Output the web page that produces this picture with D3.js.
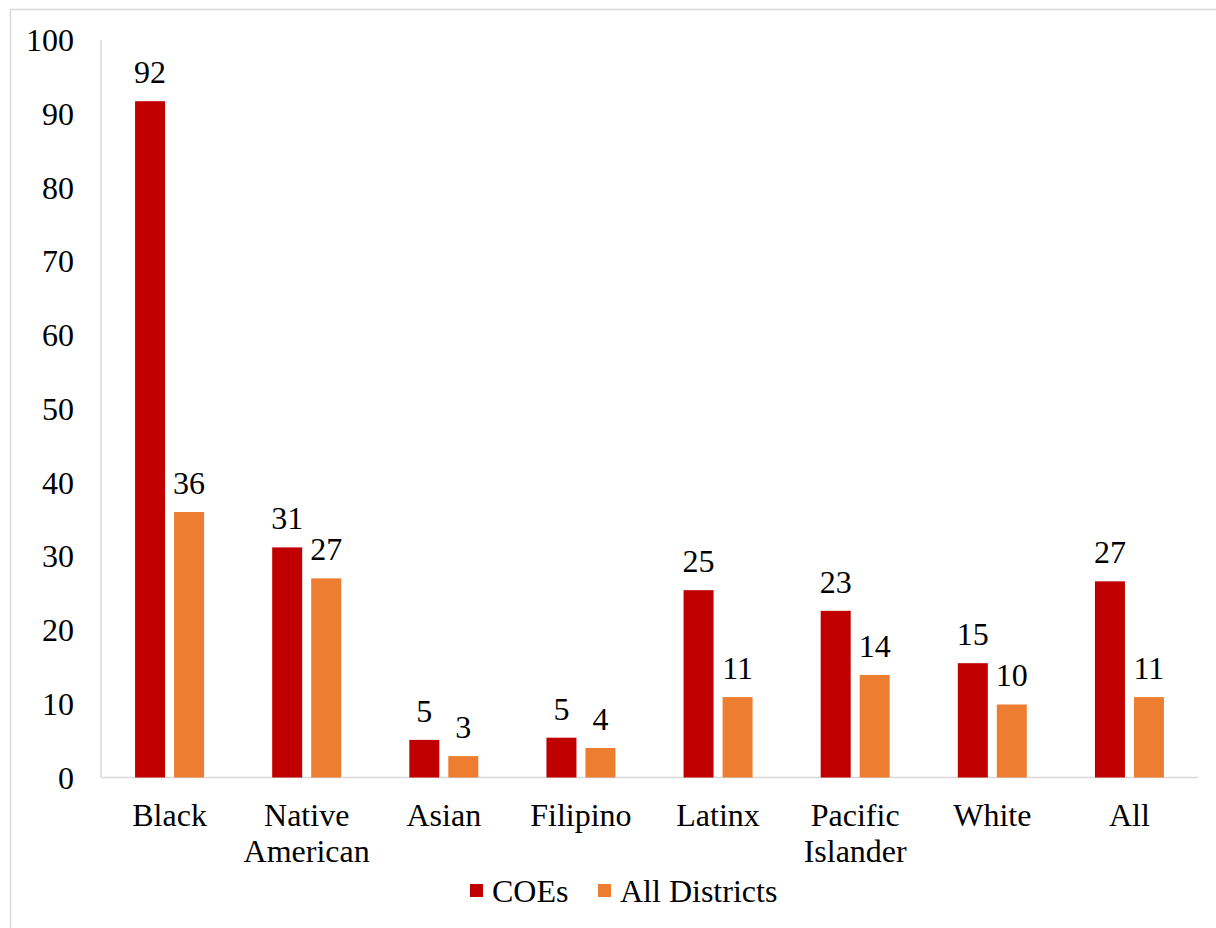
<!DOCTYPE html>
<html>
<head>
<meta charset="utf-8">
<script src="https://cdn.jsdelivr.net/npm/d3@7"></script>
<style>
  body { margin: 0; background: #fff; }
  text { font-family: "Liberation Serif", "Times New Roman", serif; fill: #000; }
</style>
</head>
<body>
<svg id="chart" width="1216" height="928"></svg>
<script>
var categories = ["Black", "Native American", "Asian", "Filipino", "Latinx", "Pacific Islander", "White", "All"];
var coes = [91.7, 31.2, 5.1, 5.4, 25.4, 22.6, 15.5, 26.6];
var allDistricts = [36.0, 27.0, 2.9, 4.0, 10.9, 13.9, 9.9, 10.9];
var coeLabels = ["92", "31", "5", "5", "25", "23", "15", "27"];
var districtLabels = ["36", "27", "3", "4", "11", "14", "10", "11"];
var seriesNames = ["COEs", "All Districts"];
var colors = ["#C00000", "#ED7D31"];
var yTicks = [0, 10, 20, 30, 40, 50, 60, 70, 80, 90, 100];

var svg = d3.select("#chart");
var fontSize = 32;

// outer frame
svg.append("rect")
    .attr("x", 10.5).attr("y", 9.5)
    .attr("width", 1220).attr("height", 940)
    .attr("fill", "none")
    .attr("stroke", "#d9d9d9")
    .attr("stroke-width", 1.5);

var plotLeft = 101, plotRight = 1198, plotTop = 40, plotBottom = 777.5;

var x = d3.scaleBand().domain(categories).range([plotLeft, plotRight]);
var y = d3.scaleLinear().domain([0, 100]).range([plotBottom, plotTop]);

var barW = 30, gap = 9;

// axis lines
svg.append("line")
    .attr("x1", plotLeft).attr("x2", plotLeft)
    .attr("y1", plotTop).attr("y2", plotBottom)
    .attr("stroke", "#d9d9d9").attr("stroke-width", 1.5);
svg.append("line")
    .attr("x1", plotLeft).attr("x2", plotRight)
    .attr("y1", plotBottom).attr("y2", plotBottom)
    .attr("stroke", "#d9d9d9").attr("stroke-width", 1.5);

// y tick labels
svg.selectAll(".ytick")
    .data(yTicks)
    .enter().append("text")
    .attr("class", "ytick")
    .attr("x", 74)
    .attr("y", function(d) { return y(d); })
    .attr("dy", "0.35em")
    .attr("text-anchor", "end")
    .attr("font-size", fontSize)
    .text(function(d) { return d; });

var series = [coes, allDistricts];
var labels = [coeLabels, districtLabels];

series.forEach(function(vals, si) {
    var offset = si === 0 ? -gap / 2 - barW : gap / 2;
    svg.selectAll(".bar" + si)
        .data(vals)
        .enter().append("rect")
        .attr("class", "bar" + si)
        .attr("x", function(d, i) { return x(categories[i]) + x.bandwidth() / 2 + offset; })
        .attr("y", function(d) { return y(d); })
        .attr("width", barW)
        .attr("height", function(d) { return plotBottom - y(d); })
        .attr("fill", colors[si]);

    svg.selectAll(".lab" + si)
        .data(vals)
        .enter().append("text")
        .attr("class", "lab" + si)
        .attr("x", function(d, i) { return x(categories[i]) + x.bandwidth() / 2 + offset + barW / 2; })
        .attr("y", function(d) { return y(d) - 18; })
        .attr("text-anchor", "middle")
        .attr("font-size", fontSize)
        .text(function(d, i) { return labels[si][i]; });
});

// category labels, split on spaces
svg.selectAll(".cat")
    .data(categories)
    .enter().append("text")
    .attr("class", "cat")
    .attr("y", 826)
    .attr("text-anchor", "middle")
    .attr("font-size", fontSize)
    .each(function(d) {
        var t = d3.select(this);
        d.split(" ").forEach(function(w, i) {
            t.append("tspan")
                .attr("x", x(d) + x.bandwidth() / 2)
                .attr("dy", i === 0 ? 0 : 36)
                .text(w);
        });
    });

// legend
var legendX = [470, 598];
seriesNames.forEach(function(name, i) {
    svg.append("rect")
        .attr("x", legendX[i]).attr("y", 884)
        .attr("width", 13).attr("height", 13)
        .attr("fill", colors[i]);
    svg.append("text")
        .attr("x", legendX[i] + 22).attr("y", 902)
        .attr("font-size", fontSize)
        .text(name);
});
</script>
</body>
</html>
